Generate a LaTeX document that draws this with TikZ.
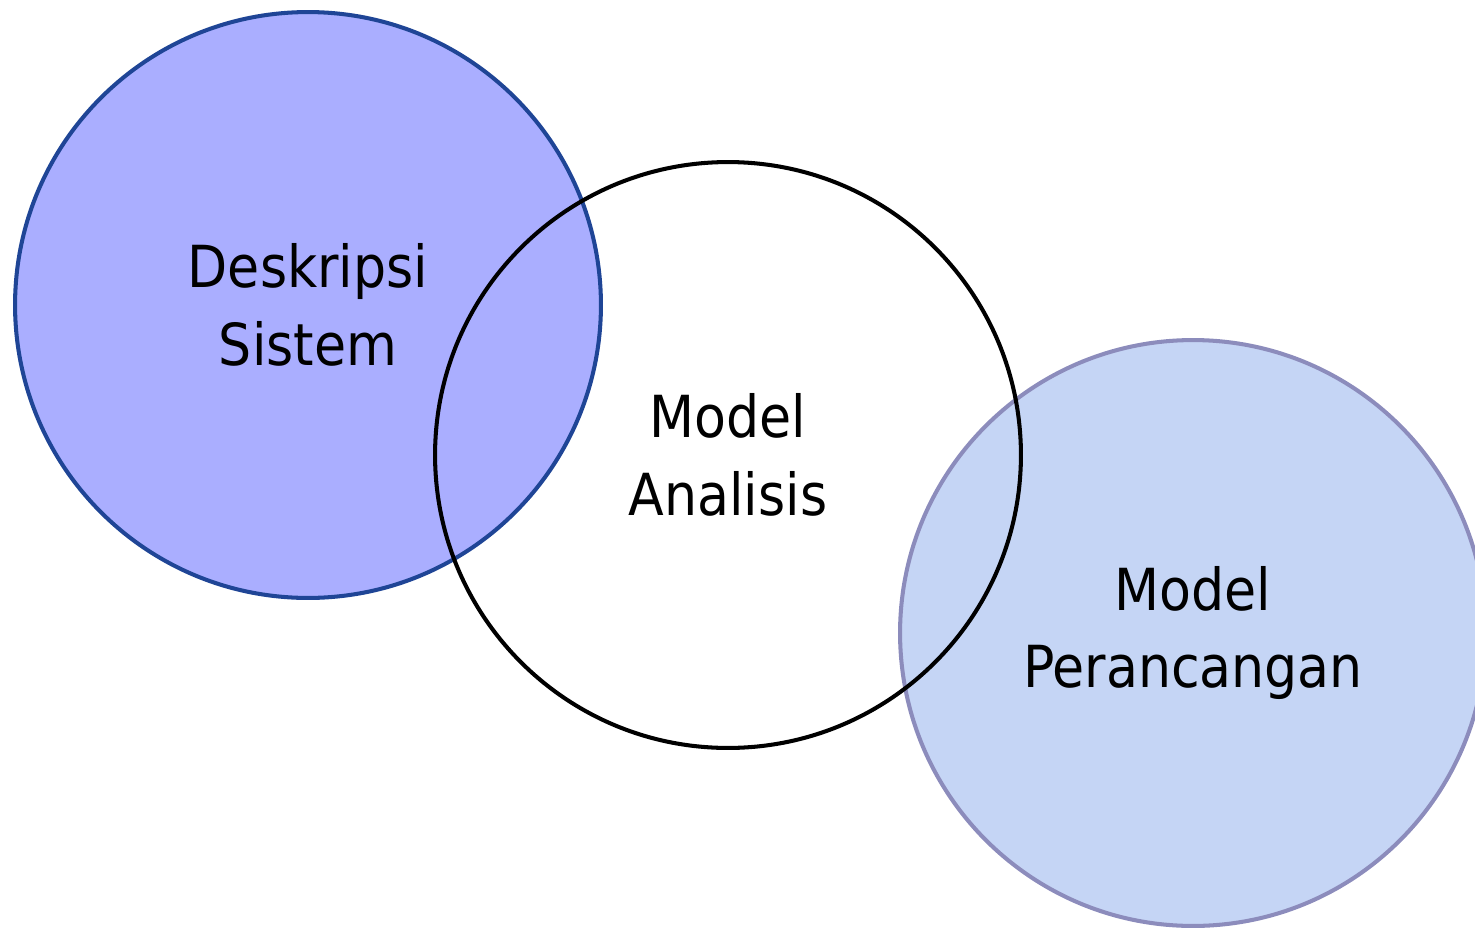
\documentclass[tikz,border=0pt]{standalone}
\usepackage{fontspec}
\setmainfont{DejaVu Sans Condensed}

\definecolor{deskripsifill}{HTML}{AAAEFF}
\definecolor{deskripsiline}{HTML}{1F4596}
\definecolor{rancangfill}{HTML}{C5D5F5}
\definecolor{rancangline}{HTML}{8C8CBC}

\tikzset{
    lingkaran/.style={circle, minimum size=11.72cm, inner sep=0pt, line width=2.3pt,
        align=center, font=\fontsize{33}{44}\selectfont}
}

\begin{document}
\begin{tikzpicture}[x=0.02cm, y=-0.02cm]
    \useasboundingbox (0, 0) rectangle (1475, 927);
    \clip (0, 0) rectangle (1475, 927);

    \node[lingkaran, draw=deskripsiline, fill=deskripsifill] (deskripsi) at (308, 305) {Deskripsi\\Sistem};
    \node[lingkaran, draw=rancangline, fill=rancangfill] (perancangan) at (1193, 633) {Model\\Perancangan};
    % lingkaran tengah tanpa isi, digambar terakhir
    \node[lingkaran, draw=black] (analisis) at (728, 455) {Model\\Analisis};
\end{tikzpicture}
\end{document}
